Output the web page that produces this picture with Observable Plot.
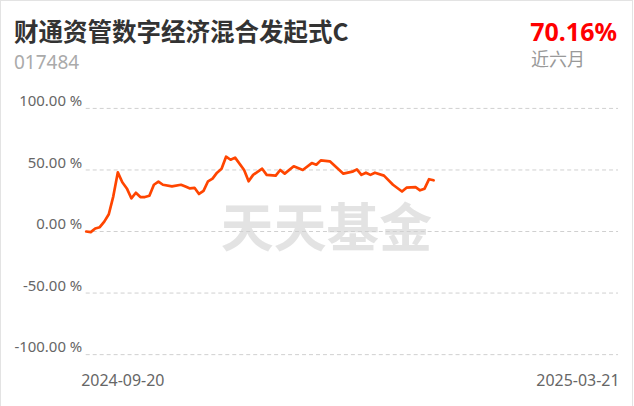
<!DOCTYPE html>
<html><head><meta charset="utf-8">
<script src="https://cdn.jsdelivr.net/npm/d3@7"></script>
<script src="https://cdn.jsdelivr.net/npm/@observablehq/plot@0.6"></script>
<style>
body{margin:0;background:#fff;font-family:"Noto Sans","Noto Sans CJK SC",sans-serif;}
#wrap{position:relative;width:631px;height:420px;border:1px solid #e3e3e3;border-bottom:none;}
#head{position:relative;height:79px;}
#title{position:absolute;left:13px;top:18px;font-size:24.5px;line-height:24px;font-weight:bold;color:#333;font-family:"Noto Sans CJK SC",sans-serif;white-space:nowrap;}
#code{position:absolute;left:13px;top:52px;font-size:19px;line-height:19px;color:#aaa;}
#ret{position:absolute;right:15px;top:19px;font-size:25px;line-height:23px;font-weight:bold;color:#ff0000;}
#period{position:absolute;left:530px;top:48px;font-size:18px;line-height:18px;color:#999;font-family:"Noto Sans CJK SC",sans-serif;}
#chart svg{display:block;}
</style></head>
<body>
<div id="wrap">
  <div id="head">
    <div id="title"></div>
    <div id="code"></div>
    <div id="ret"></div>
    <div id="period"></div>
  </div>
  <div id="chart"></div>
</div>
<script>
const titleText = "财通资管数字经济混合发起式C";
const fundCode = "017484";
const returnText = "70.16%";
const periodText = "近六月";
const watermark = "天天基金";
const startLabel = "2024-09-20";
const endLabel = "2025-03-21";
const totalDays = 118;
const yTicks = [-100, -50, 0, 50, 100];
const dayIndex = [0,1,2,3,4,5,6,7,8,9,10,11,12,13,14,15,16,17,19,21,22,23,24,25,26,27,28,29,30,31,32,33,35,36,37,39,40,42,43,44,46,48,50,51,52,54,57,59,60,61,62,63,64,66,68,70,71,73,74,75,76,77];
const returns  = [0,-0.5,2.5,3.5,8,14,28.6,48,40,35,27,31.5,28,28,29,38,40.5,38,36.7,38,36.5,35,35.5,30.5,33,40.8,43,47.8,51,60.8,58.3,60,50,40.8,46,51,46,45.4,50,47,53,50,55.6,54.3,57.8,57,47,48.6,50.5,46,47.8,46,47.8,45.4,38,32.5,35.6,36,33.5,34.8,42.5,41.6];

document.getElementById("title").textContent = titleText;
document.getElementById("code").textContent = fundCode;
document.getElementById("ret").textContent = returnText;
document.getElementById("period").textContent = periodText;

const data = dayIndex.map((d, i) => ({d, v: returns[i]}));
const lab = {0: startLabel, [totalDays]: endLabel};

const chart = Plot.plot({
  width: 633,
  height: 326,
  marginLeft: 85,
  marginRight: 14,
  marginTop: 28,
  marginBottom: 51,
  style: {fontFamily: "'Noto Sans', sans-serif", color: "#666", background: "transparent"},
  x: {domain: [0, totalDays], axis: null, label: null},
  y: {domain: [-100, 100], axis: null, label: null},
  marks: [
    Plot.text([watermark], {frameAnchor: "middle", dx: -26, dy: -1, fontSize: 53, fontWeight: "bold", fill: "#e3e3e3", fontFamily: "'Noto Sans CJK SC', sans-serif"}),
    Plot.gridY(yTicks, {stroke: "#d0d0d0", strokeOpacity: 1, strokeDasharray: "4,3"}),
    Plot.axisY(yTicks, {label: null, tickSize: 0, tickPadding: 4, dy: -7, fontSize: 15, fill: "#666", tickFormat: d => d.toFixed(2) + " %"}),
    Plot.axisX([0], {label: null, tickSize: 0, tickPadding: 20, textAnchor: "start", dx: -5, fontSize: 16, fill: "#666", tickFormat: d => lab[d]}),
    Plot.axisX([totalDays], {label: null, tickSize: 0, tickPadding: 20, textAnchor: "end", dx: 1, fontSize: 16, fill: "#666", tickFormat: d => lab[d]}),
    Plot.line(data, {x: "d", y: "v", stroke: "#ff4500", strokeWidth: 2.7, strokeLinejoin: "round"})
  ]
});
document.getElementById("chart").appendChild(chart);
</script>
</body></html>
